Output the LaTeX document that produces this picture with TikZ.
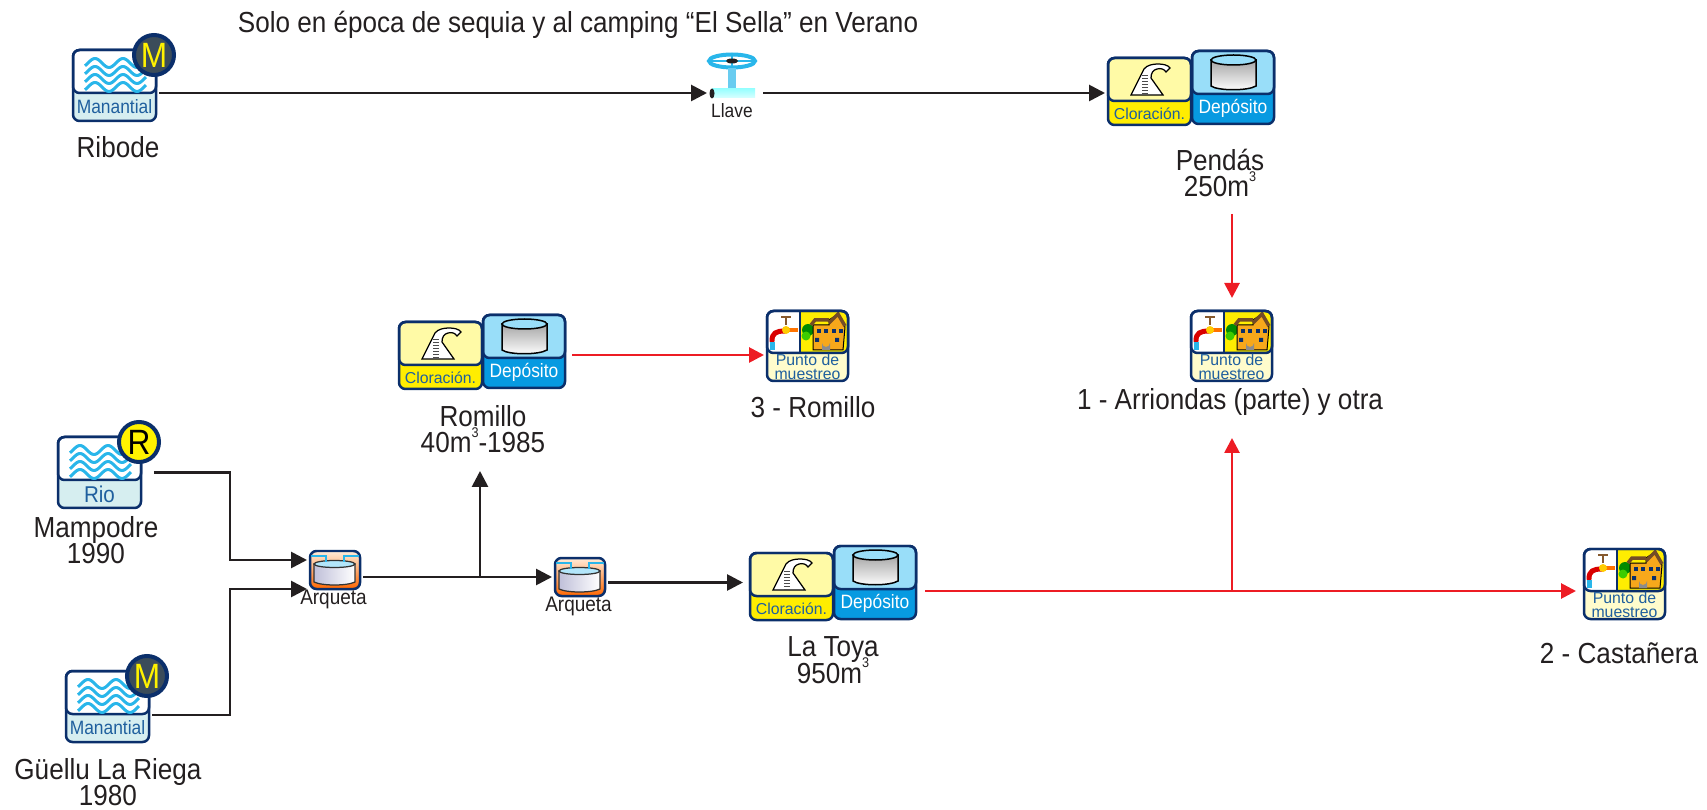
\documentclass[tikz,border=0pt]{standalone}
\usepackage{fontspec}
\setmainfont[FakeStretch=0.9]{Liberation Sans}
\newfontfamily\anchafont{Liberation Sans}
\usetikzlibrary{arrows.meta}

\definecolor{marino}{HTML}{0B2F6B}
\definecolor{tinta}{HTML}{231F20}
\definecolor{rojo}{HTML}{ED1C24}
\definecolor{ola}{HTML}{29B6EA}
\definecolor{azulTxt}{HTML}{1F5F9E}
\definecolor{fondoFuente}{HTML}{D6EEF0}
\definecolor{pizarra}{HTML}{3B4C5A}
\definecolor{ladrillo}{HTML}{F7A81B}

\newcommand{\cubo}{\smash{\raisebox{.52em}{\fontsize{8}{8}\selectfont 3}}}

\tikzset{
    flujo/.style={line width=.055cm, tinta, -{Triangle[length=.32cm,width=.32cm]}},
    flujoRojo/.style={line width=.055cm, rojo, -{Triangle[length=.3cm,width=.3cm]}},
    etiqueta/.style={font=\fontsize{16.5}{15}\selectfont, text=tinta, align=center, inner sep=0pt},
    borde/.style={draw=marino, line width=.05cm, rounded corners=.13cm},
    caja/.style n args={2}{minimum width=#1*.02cm, minimum height=#2*.02cm, inner sep=0pt, outer sep=.06cm},
    pics/fuente/.style n args={5}{code={
        \node[caja={83}{71}] (-box) at (41.5,35.5) {};
        \fill[fondoFuente, rounded corners=.13cm] (0,0) rectangle (83,71);
        \draw[borde, fill=white] (0,0) rectangle (83,43);
        \foreach \yy in {13,21,29,37}
            \draw[ola, line width=.06cm, domain=12:73, samples=40] plot ({\x},{\yy-4.5*cos((\x-22)*12.857)});
        \draw[borde] (0,0) rectangle (83,71);
        \node[text=azulTxt, inner sep=0pt, font=#5] (-txt) at (41.5,57) {#1};
        \draw[marino, line width=.08cm, fill=#3] (81,5) circle (20);
        \node[text=#4, inner sep=0pt, font=\fontsize{20}{20}\selectfont] (-letra) at (81,5) {#2};
    }},
    pics/planta/.style={code={
        \node[caja={83}{67}] (-clor) at (41.5,33.5) {};
        \node[caja={82}{73}] (-dep) at (125,29.5) {};
        % Cloracion
        \fill[yellow!95!orange, rounded corners=.13cm] (0,0) rectangle (83,67);
        \draw[borde, fill=yellow!35] (0,0) rectangle (83,43);
        \draw[borde] (0,0) rectangle (83,67);
        \draw[black, fill=white, line width=.025cm] (23,37) -- (36,11) .. controls (39,7) and (45,6) .. (50,6)
            .. controls (55,6) and (60,7) .. (62,10) -- (58,14) .. controls (56,11) and (53,10) .. (49,11)
            .. controls (45,12) and (43,15) .. (43,20) -- (55,37) -- cycle;
        \foreach \yy in {18,21,...,36}
            \draw[black!70, line width=.02cm] (34,\yy) -- (40,\yy);
        \node[text=azulTxt, inner sep=0pt, font=\anchafont\fontsize{9}{9}\selectfont] (-ctxt) at (41.5,56) {Cloración.};
        % Deposito
        \fill[cyan!85!blue, rounded corners=.13cm] (84,-7) rectangle (166,66);
        \draw[borde, fill=cyan!40] (84,-7) rectangle (166,36);
        \draw[borde] (84,-7) rectangle (166,66);
        \draw[black, top color=black!35, bottom color=white, line width=.03cm] (103,2) -- (103,28)
            .. controls (110,33) and (140,33) .. (148,28) -- (148,2) -- cycle;
        \draw[black, fill=cyan!40, line width=.03cm] (125.5,2) ellipse (22.5 and 5);
        \node[text=white, inner sep=0pt, font=\fontsize{11}{11}\selectfont] (-dtxt) at (125,50) {Depósito};
    }},
    pics/punto/.style={code={
        \node[caja={81}{70}] (-box) at (40.5,35) {};
        \fill[yellow!20, rounded corners=.13cm] (0,0) rectangle (81,70);
        \begin{scope}
            \clip[rounded corners=.13cm] (0,0) rectangle (81,42);
            \fill[white] (0,0) rectangle (33,42);
            \fill[yellow!95!orange] (33,0) rectangle (81,42);
        \end{scope}
        % Grifo
        \draw[orange!90!red, line width=.09cm] (17,19) -- (31,19);
        \draw[red!85!black, line width=.1cm, line cap=round] (5,30) .. controls (5,22) and (9,20) .. (18,20);
        \fill[orange!40!yellow] (19,19) circle (4);
        \draw[brown!70!black, line width=.05cm] (19,14) -- (19,6) (14,6) -- (24,6);
        \fill[ola] (3,31) rectangle (8,39);
        % Casa
        \fill[green!55!black] (41,19) circle (6);
        \fill[green!70!yellow!80!black] (39,25) circle (4.5);
        \draw[black, fill=ladrillo, line width=.02cm] (46,39) -- (46,14) -- (62,14) -- (62,9) -- (71,3) -- (78,16) -- (76,39) -- cycle;
        \draw[brown!60!black, line width=.07cm] (44,14) -- (48,9) -- (62,9) (62,12) -- (71,3) -- (78,15);
        \foreach \xx in {50,57,65,72}
            \fill[marino] (\xx,18) rectangle +(3.5,4);
        \fill[marino] (48,27) rectangle +(4,4) (68,27) rectangle +(4,4);
        \fill[black!45] (55,39) -- (55,32) arc (180:0:4) -- (63,39) -- cycle;
        \draw[borde] (0,0) rectangle (81,42);
        \draw[borde] (0,0) rectangle (81,70);
        \draw[marino, line width=.03cm] (33,0) -- (33,42);
        \node[text=azulTxt, inner sep=0pt, align=center, font=\anchafont\fontsize{9}{7.8}\selectfont] (-txt) at (40.5,56) {Punto de\\muestreo};
    }},
    pics/arqueta/.style={code={
        \node[caja={50}{38}] (-box) at (25,19) {};
        \draw[borde, top color=orange!15, bottom color=orange!80!red] (0,0) rectangle (50,38);
        \draw[black!80, left color=blue!25!gray!40, right color=white, line width=.025cm] (4,13) -- (4,31)
            .. controls (12,35) and (37,35) .. (45,31) -- (45,13) -- cycle;
        \draw[black!80, fill=cyan!30, line width=.025cm] (24.5,13) ellipse (20.5 and 3.5);
        \draw[ola, line width=.05cm] (1,5) -- (16,5) -- (16,11) (49,5) -- (34,5) -- (34,11);
        \node[etiqueta, font=\fontsize{12}{12}\selectfont] (-txt) at (23.5,48) {Arqueta};
    }}
}

\begin{document}
\begin{tikzpicture}[x=.02cm, y=-.02cm]
    \useasboundingbox (0,0) rectangle (1707,810);

    \node[etiqueta] (titulo) at (578,25) {Solo en época de sequia y al camping “El Sella” en Verano};

    % Fuentes
    \pic (ribode) at (73,50) {fuente={Manantial}{M}{pizarra}{yellow}{\fontsize{11}{11}\selectfont}};
    \pic (mampodre) at (58,437) {fuente={Rio}{R}{yellow}{black}{\fontsize{13}{13}\selectfont}};
    \pic (guellu) at (66,671) {fuente={Manantial}{M}{pizarra}{yellow}{\fontsize{11}{11}\selectfont}};

    \node[etiqueta] (ribodeT) at (118,147) {Ribode};
    \node[etiqueta] (mampodreT) at (96,540) {Mampodre\\1990};
    \node[etiqueta] (guelluT) at (108,782) {Güellu La Riega\\1980};

    % Llave
    \node[caja={50}{20}] (llave) at (735,93) {};
    \draw[ola, line width=.08cm] (732,61) ellipse (23 and 6.5);
    \draw[ola, line width=.03cm] (709,61) -- (755,61) (732,55) -- (732,67);
    \draw[ola!70, line width=.16cm] (732,68) -- (732,88);
    \shade[top color=cyan!40, bottom color=cyan!15] (712,89) rectangle (755,98);
    \fill[tinta] (712,93.5) ellipse (2.5 and 5);
    \fill[tinta] (732,61) ellipse (6 and 2.5);
    \node[etiqueta, font=\fontsize{11}{11}\selectfont] (llaveT) at (732,111) {Llave};

    % Plantas
    \pic (pendas) at (1108,58) {planta};
    \pic (romillo) at (399,322) {planta};
    \pic (toya) at (750,553) {planta};

    \node[etiqueta] (pendasT) at (1220,173) {Pendás\\250m\cubo};
    \node[etiqueta] (romilloT) at (483,429) {Romillo\\40m\cubo-1985};
    \node[etiqueta] (toyaT) at (833,660) {La Toya\\950m\cubo};

    % Arquetas
    \pic (arqA) at (310,551) {arqueta};
    \pic (arqB) at (555,558) {arqueta};

    % Puntos de muestreo
    \pic (puntoU) at (1191,311) {punto};
    \pic (puntoD) at (1584,549) {punto};
    \pic (puntoT) at (767,311) {punto};

    \node[etiqueta] (puntoUT) at (1230,402) {1 - Arriondas (parte) y otra};
    \node[etiqueta] (puntoDT) at (1619,653) {2 - Castañera};
    \node[etiqueta] (puntoTT) at (813,407) {3 - Romillo};

    % Puntos auxiliares
    \coordinate (codoM) at (230,560);
    \coordinate (codoG) at (230,715);
    \coordinate (codoA) at (230,589);
    \coordinate (cruceN) at (480,577);
    \coordinate (finN) at (480,471);
    \coordinate (cruceR) at (1232,591);
    \coordinate (finR) at (1232,438);
    \coordinate (iniP) at (1232,214);
    \coordinate (finP) at (1232,298);
    \coordinate (nivelT) at (600,355);

    % Conexiones
    \draw[flujo] (ribode-box.east |- llave.west) -- (llave.west);
    \draw[flujo] (llave.east) -- (pendas-clor.west |- llave.east);
    \draw[flujo, shorten <=.2cm] (mampodre-box.east) -| (codoM) -- (arqA-box.west |- codoM);
    \draw[flujo] (guellu-box.east |- codoG) -- (codoG) -- (codoA) -- (arqA-box.west |- codoA);
    \draw[flujo] (arqA-box.east |- arqB-box.west) -- (arqB-box.west);
    \draw[flujo] (cruceN) -- (finN);
    \draw[flujo, shorten >=.08cm] (arqB-box.east |- toya-dep.west) -- (toya-clor.west |- toya-dep.west);
    \draw[flujoRojo, shorten <=.08cm] (romillo-dep.east |- nivelT) -- (puntoT-box.west |- nivelT);
    \draw[flujoRojo] (iniP) -- (finP);
    \draw[flujoRojo, shorten <=.12cm, shorten >=.1cm] (toya-dep.east |- cruceR) -- (puntoD-box.west |- cruceR);
    \draw[flujoRojo] (cruceR) -- (finR);
\end{tikzpicture}
\end{document}
